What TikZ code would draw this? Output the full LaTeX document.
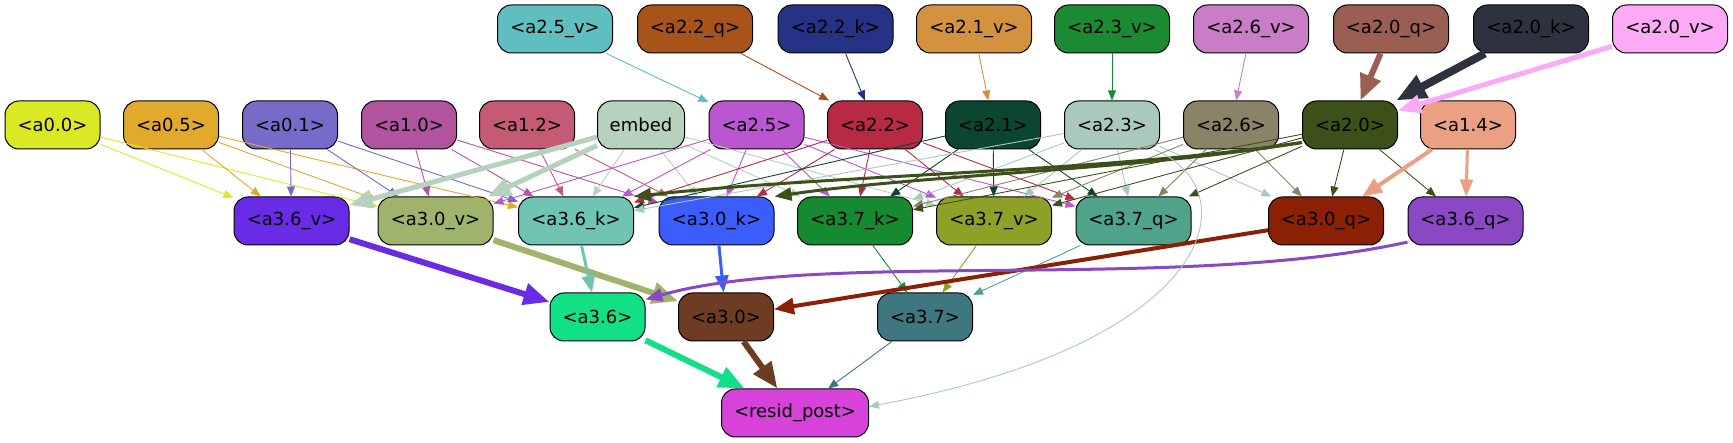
\documentclass[tikz,border=0pt]{standalone}
\usepackage{fontspec}
\setmainfont{DejaVu Sans}
\usetikzlibrary{arrows.meta}
\definecolor{cA00}{HTML}{DBE924}
\definecolor{cA05}{HTML}{E2AA2C}
\definecolor{cA01}{HTML}{766BC9}
\definecolor{cA10}{HTML}{B054A0}
\definecolor{cA12}{HTML}{C55A76}
\definecolor{cEmb}{HTML}{B6D1BC}
\definecolor{cA25}{HTML}{BB56D1}
\definecolor{cA22}{HTML}{B82943}
\definecolor{cA21}{HTML}{0C4530}
\definecolor{cA23}{HTML}{A9C9BD}
\definecolor{cA26}{HTML}{8B8367}
\definecolor{cA20}{HTML}{3C5119}
\definecolor{cA14}{HTML}{EBA084}
\definecolor{cA25v}{HTML}{5FBEC0}
\definecolor{cA22q}{HTML}{A8531A}
\definecolor{cA22k}{HTML}{263285}
\definecolor{cA21v}{HTML}{D4923F}
\definecolor{cA23v}{HTML}{1B8A33}
\definecolor{cA26v}{HTML}{C87DC6}
\definecolor{cA20q}{HTML}{9B5E52}
\definecolor{cA20k}{HTML}{2E323F}
\definecolor{cA20v}{HTML}{FCAAF6}
\definecolor{cA36v}{HTML}{6A2BE6}
\definecolor{cA30v}{HTML}{A0B36D}
\definecolor{cA36k}{HTML}{6FC4B3}
\definecolor{cA30k}{HTML}{3B5DFD}
\definecolor{cA37k}{HTML}{168A30}
\definecolor{cA37v}{HTML}{8EA126}
\definecolor{cA37q}{HTML}{4EA38A}
\definecolor{cA30q}{HTML}{8B2005}
\definecolor{cA36q}{HTML}{8B48C4}
\definecolor{cA36}{HTML}{12E087}
\definecolor{cA30}{HTML}{6D3C22}
\definecolor{cA37}{HTML}{3F7780}
\definecolor{cRes}{HTML}{D742DA}
\tikzset{
  nd/.style={draw=black, line width=1pt, rounded corners=14pt, minimum height=48pt,
    inner sep=0pt, text=black, font=\fontsize{18pt}{22pt}\selectfont},
  ws/.style={nd, minimum width=95pt},
  wl/.style={nd, minimum width=115pt},
  ew1/.style={line width=0.9pt, -{Triangle[length=10pt,width=8pt]}},
  ew3/.style={line width=3pt, -{Triangle[length=17pt,width=13pt]}},
  ew4/.style={line width=4pt, -{Triangle[length=20pt,width=16pt]}},
  ew5/.style={line width=5pt, -{Triangle[length=23pt,width=18pt]}},
  ew6/.style={line width=6pt, -{Triangle[length=26pt,width=21pt]}},
  ew8/.style={line width=8pt, -{Triangle[length=30pt,width=24pt]}},
}
\begin{document}
\begin{tikzpicture}[x=1pt,y=-1pt]
\useasboundingbox (0,0) rectangle (1733,443);
% row 1
\node[wl, fill=cA25v] (a25v) at (555,29) {<a2.5\_v>};
\node[wl, fill=cA22q] (a22q) at (695,29) {<a2.2\_q>};
\node[wl, fill=cA22k] (a22k) at (835.5,29) {<a2.2\_k>};
\node[wl, fill=cA21v] (a21v) at (974,29) {<a2.1\_v>};
\node[wl, fill=cA23v] (a23v) at (1112,29) {<a2.3\_v>};
\node[wl, fill=cA26v] (a26v) at (1251,29) {<a2.6\_v>};
\node[wl, fill=cA20q] (a20q) at (1391,29) {<a2.0\_q>};
\node[wl, fill=cA20k] (a20k) at (1531,29) {<a2.0\_k>};
\node[wl, fill=cA20v] (a20v) at (1670,29) {<a2.0\_v>};
% row 2
\node[ws, fill=cA00] (a00) at (52.5,125) {<a0.0>};
\node[ws, fill=cA05] (a05) at (171,125) {<a0.5>};
\node[ws, fill=cA01] (a01) at (290,125) {<a0.1>};
\node[ws, fill=cA10] (a10) at (409,125) {<a1.0>};
\node[ws, fill=cA12] (a12) at (527,125) {<a1.2>};
\node[nd, minimum width=87pt, fill=cEmb] (emb) at (641,125) {embed};
\node[ws, fill=cA25] (a25) at (756.5,125) {<a2.5>};
\node[ws, fill=cA22] (a22) at (875,125) {<a2.2>};
\node[ws, fill=cA21] (a21) at (993,125) {<a2.1>};
\node[ws, fill=cA23] (a23) at (1112,125) {<a2.3>};
\node[ws, fill=cA26] (a26) at (1231,125) {<a2.6>};
\node[ws, fill=cA20] (a20) at (1350,125) {<a2.0>};
\node[ws, fill=cA14] (a14) at (1468,125) {<a1.4>};
% row 3
\node[wl, fill=cA36v] (a36v) at (291.5,221) {<a3.6\_v>};
\node[wl, fill=cA30v] (a30v) at (435.5,221) {<a3.0\_v>};
\node[wl, fill=cA36k] (a36k) at (576,221) {<a3.6\_k>};
\node[wl, fill=cA30k] (a30k) at (716.5,221) {<a3.0\_k>};
\node[wl, fill=cA37k] (a37k) at (855,221) {<a3.7\_k>};
\node[wl, fill=cA37v] (a37v) at (994,221) {<a3.7\_v>};
\node[wl, fill=cA37q] (a37q) at (1133.5,221) {<a3.7\_q>};
\node[wl, fill=cA30q] (a30q) at (1326,221) {<a3.0\_q>};
\node[wl, fill=cA36q] (a36q) at (1465.5,221) {<a3.6\_q>};
% row 4
\node[ws, fill=cA36] (a36) at (597.5,317) {<a3.6>};
\node[ws, fill=cA30] (a30) at (726,317) {<a3.0>};
\node[ws, fill=cA37] (a37) at (925,317) {<a3.7>};
% row 5
\node[nd, minimum width=147pt, fill=cRes] (res) at (795,413) {<resid\_post>};

% edges row1 -> row2
\draw[ew1, cA25v] (a25v) -- (a25);
\draw[ew1, cA22q] (a22q) -- (a22);
\draw[ew1, cA22k] (a22k) -- (a22);
\draw[ew1, cA21v] (a21v) -- (a21);
\draw[ew1, cA23v] (a23v) -- (a23);
\draw[ew1, cA26v] (a26v) -- (a26);
\draw[ew6, cA20q] (a20q) -- (a20);
\draw[ew8, cA20k] (a20k) -- (a20);
\draw[ew5, cA20v] (a20v) -- (a20);

% edges row2 -> row3
\draw[ew1, cA00] (a00) -- (a36v);
\draw[ew1, cA00] (a00) -- (a30v);
\draw[ew1, cA05] (a05) -- (a36v);
\draw[ew1, cA05] (a05) -- (a30v);
\draw[ew1, cA05] (a05) -- (a36k);
\draw[ew1, cA01] (a01) -- (a36v);
\draw[ew1, cA01] (a01) -- (a30v);
\draw[ew1, cA01] (a01) -- (a36k);
\draw[ew1, cA10] (a10) -- (a30v);
\draw[ew1, cA10] (a10) -- (a36k);
\draw[ew1, cA10] (a10) -- (a30k);
\draw[ew1, cA12] (a12) -- (a36k);
\draw[ew1, cA12] (a12) -- (a30k);
\draw[ew5, cEmb] (emb) -- (a36v);
\draw[ew5, cEmb] (emb) -- (a30v);
\draw[ew1, cEmb] (emb) -- (a36k);
\draw[ew1, cEmb] (emb) -- (a30k);
\draw[ew1, cEmb] (emb) -- (a37k);
\draw[ew1, cEmb] (emb) -- (a37v);
\draw[ew1, cA25] (a25) -- (a30v);
\draw[ew1, cA25] (a25) -- (a36k);
\draw[ew1, cA25] (a25) -- (a30k);
\draw[ew1, cA25] (a25) -- (a37k);
\draw[ew1, cA25] (a25) -- (a37v);
\draw[ew1, cA25] (a25) -- (a37q);
\draw[ew1, cA22] (a22) -- (a36k);
\draw[ew1, cA22] (a22) -- (a30k);
\draw[ew1, cA22] (a22) -- (a37k);
\draw[ew1, cA22] (a22) -- (a37v);
\draw[ew1, cA22] (a22) -- (a37q);
\draw[ew1, cA21] (a21) -- (a36k);
\draw[ew1, cA21] (a21) -- (a37k);
\draw[ew1, cA21] (a21) -- (a37v);
\draw[ew1, cA21] (a21) -- (a37q);
\draw[ew1, cA23] (a23) -- (a36k);
\draw[ew1, cA23] (a23) -- (a37k);
\draw[ew1, cA23] (a23) -- (a37v);
\draw[ew1, cA23] (a23) -- (a37q);
\draw[ew1, cA23] (a23) -- (a30q);
\draw[ew1, cA26] (a26) -- (a37k);
\draw[ew1, cA26] (a26) -- (a37v);
\draw[ew1, cA26] (a26) -- (a37q);
\draw[ew1, cA26] (a26) -- (a30q);
\draw[ew3, cA20] (a20.200) .. controls +(-200,30) and +(200,-22) .. (a36k.north east);
\draw[ew3, cA20] (a20.200) .. controls +(-170,28) and +(150,-22) .. (a30k.north east);
\draw[ew1, cA20] (a20) -- (a37k);
\draw[ew1, cA20] (a20) -- (a37v);
\draw[ew1, cA20] (a20) -- (a37q);
\draw[ew1, cA20] (a20) -- (a30q);
\draw[ew1, cA20] (a20) -- (a36q);
\draw[ew4, cA14] (a14) -- (a30q);
\draw[ew3, cA14] (a14) -- (a36q);

% edges row3 -> row4
\draw[ew6, cA36v] (a36v) -- (a36);
\draw[ew6, cA30v] (a30v) -- (a30);
\draw[ew3, cA36k] (a36k) -- (a36);
\draw[ew3, cA30k] (a30k) -- (a30);
\draw[ew1, cA37k] (a37k) -- (a37);
\draw[ew1, cA37v] (a37v) -- (a37);
\draw[ew1, cA37q] (a37q) -- (a37);
\draw[ew4, cA30q] (a30q) -- (a30);
\draw[ew3, cA36q] (a36q.200) .. controls +(-228,50) and +(175,-50) .. (a36.20);

% edges to resid_post
\draw[ew6, cA36] (a36) -- (res);
\draw[ew6, cA30] (a30) -- (res);
\draw[ew1, cA37] (a37) -- (res);
\draw[ew1, cA23] (a23.-30) .. controls +(96,41) and +(350,-65) .. (res.5);
\end{tikzpicture}
\end{document}
